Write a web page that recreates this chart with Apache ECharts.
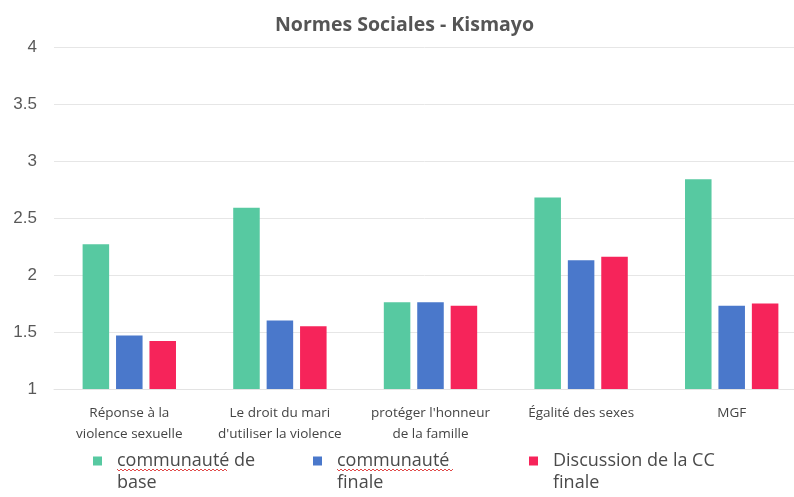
<!DOCTYPE html>
<html>
<head>
<meta charset="utf-8">
<script src="https://cdn.jsdelivr.net/npm/echarts@6/dist/echarts.min.js"></script>
<style>
  html, body { margin: 0; padding: 0; background: #fff; }
  #chart { width: 794px; height: 497px; }
</style>
</head>
<body>
<div id="chart"></div>
<script>
// données
var categories = [
    'Réponse à la\nviolence sexuelle',
    'Le droit du mari\nd\'utiliser la violence',
    'protéger l\'honneur\nde la famille',
    'Égalité des sexes',
    'MGF'
];
var seriesNames = ['communauté de base', 'communauté finale', 'Discussion de la CC finale'];
var legendLines = [['communauté de', 'base'], ['communauté', 'finale'], ['Discussion de la CC', 'finale']];
var baseValues = [2.27, 2.59, 1.76, 2.68, 2.84];
var finaleValues = [1.47, 1.60, 1.76, 2.13, 1.73];
var ccValues = [1.42, 1.55, 1.73, 2.16, 1.75];
var yTicks = [1, 1.5, 2, 2.5, 3, 3.5, 4];

var colors = ['#57c9a1', '#4a78cb', '#f6245a'];
var allValues = [baseValues, finaleValues, ccValues];

var myChart = echarts.init(document.getElementById('chart'));

// soulignement ondulé (correcteur orthographique) sous "communauté"
function wavy(x0, x1, y) {
    var pts = [];
    var up = true;
    for (var x = x0; x <= x1; x += 2) {
        pts.push([x, up ? y - 1 : y + 1]);
        up = !up;
    }
    return {
        type: 'polyline',
        shape: { points: pts },
        style: { stroke: '#e04848', lineWidth: 1, fill: null },
        silent: true,
        z: 100
    };
}

var legendLefts = [88, 308, 524];
var legends = seriesNames.map(function(name, i) {
    return {
        data: [name],
        left: legendLefts[i],
        top: 423,
        icon: 'rect',
        itemWidth: 9,
        itemHeight: 9,
        selectedMode: false,
        formatter: function() {
            // ligne vide en tête : la 1re ligne reste centrée sur le carré
            return '\n{t|' + legendLines[i][0] + '}\n{t|' + legendLines[i][1] + '}';
        },
        textStyle: {
            fontFamily: 'Open Sans',
            fontSize: 18,
            color: '#4a4a4a',
            lineHeight: 22,
            rich: {
                t: {
                    fontFamily: 'Open Sans',
                    fontSize: 18,
                    color: '#4a4a4a',
                    lineHeight: 22,
                    padding: [0, 0, 0, 10]
                }
            }
        }
    };
});

var option = {
    animation: false,
    title: {
        text: 'Normes Sociales - Kismayo',
        left: 270,
        top: 10,
        textStyle: {
            fontFamily: 'Open Sans',
            fontWeight: 'bold',
            fontSize: 19.5,
            color: '#555555'
        }
    },
    legend: legends,
    grid: {
        left: 54,
        right: -13,
        top: 47,
        bottom: 108,
        outerBoundsMode: 'none',
        containLabel: false
    },
    xAxis: {
        type: 'category',
        data: categories,
        axisLine: { lineStyle: { color: '#e3e3e3' } },
        axisTick: { show: false },
        axisLabel: {
            interval: 0,
            margin: 14,
            fontFamily: 'Open Sans',
            fontSize: 13.5,
            lineHeight: 21,
            color: '#444444'
        }
    },
    yAxis: {
        type: 'value',
        min: yTicks[0],
        max: yTicks[yTicks.length - 1],
        interval: 0.5,
        axisLine: { show: false },
        axisTick: { show: false },
        axisLabel: {
            margin: 17,
            fontFamily: 'Liberation Sans',
            fontSize: 17,
            color: '#595959'
        },
        splitLine: { lineStyle: { color: '#e6e6e6' } }
    },
    series: seriesNames.map(function(name, i) {
        return {
            name: name,
            type: 'bar',
            data: allValues[i],
            barGap: '26%',
            barCategoryGap: '38%',
            itemStyle: { color: colors[i] }
        };
    }),
    graphic: [
        wavy(117, 228, 470),
        wavy(337, 453, 470)
    ]
};

myChart.setOption(option);
</script>
</body>
</html>
